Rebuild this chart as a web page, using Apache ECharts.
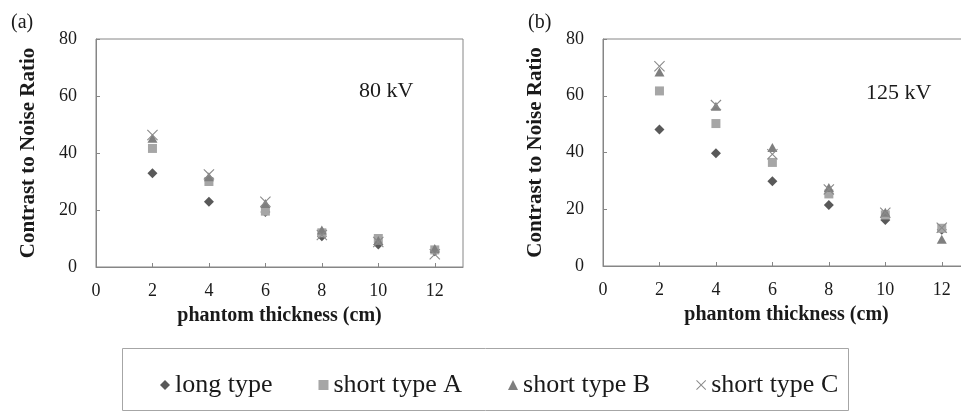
<!DOCTYPE html>
<html>
<head>
<meta charset="utf-8">
<script src="https://cdn.jsdelivr.net/npm/echarts@6/dist/echarts.min.js"></script>
<style>
html, body { margin: 0; padding: 0; background: #fff; }
#main { width: 961px; height: 412px; }
</style>
</head>
<body>
<div id="main"></div>
<script>
// 横轴：体模厚度 (cm)
const thickness = [2, 4, 6, 8, 10, 12]
const xTicks = [0, 2, 4, 6, 8, 10, 12]
const yTicks = [0, 20, 40, 60, 80]

// (a) 80 kV
const long80 = [32.9, 22.9, 19.3, 10.8, 7.9, 5.5]
const shortA80 = [41.6, 30.0, 19.6, 12.0, 10.0, 6.0]
const shortB80 = [45.2, 31.7, 22.3, 13.0, 9.3, 6.5]
const shortC80 = [46.3, 32.5, 22.9, 11.2, 8.8, 4.5]

// (b) 125 kV
const long125 = [48.1, 39.7, 29.9, 21.5, 16.2, 12.8]
const shortA125 = [61.7, 50.2, 36.5, 25.4, 18.0, 13.3]
const shortB125 = [68.4, 56.3, 41.8, 27.7, 18.9, 9.4]
const shortC125 = [70.4, 56.7, 39.4, 27.0, 18.8, 13.5]

const seriesNames = ['long type', 'short type A', 'short type B', 'short type C']

const FONT = '"Liberation Serif", "Times New Roman", serif'
const AXIS_GRAY = '#868686'
const crossPath = 'path://M0.7,0L5,4.3L9.3,0L10,0.7L5.7,5L10,9.3L9.3,10L5,5.7L0.7,10L0,9.3L4.3,5L0,0.7Z'

// 各系列的标记样式
const markerStyles = [
    { symbol: 'diamond', symbolSize: 10, color: '#595959' },
    { symbol: 'rect', symbolSize: 9, color: '#a6a6a6' },
    { symbol: 'triangle', symbolSize: [10, 9], color: '#7f7f7f' },
    { symbol: crossPath, symbolSize: 11, color: '#8a8a8a' }
]

const chart = echarts.init(document.getElementById('main'), null, { renderer: 'canvas' })

// 合成 [x, y] 数据对
function pairs(values) {
    return thickness.map((x, i) => [x, values[i]])
}

function makeXAxis(gridIndex) {
    return {
        type: 'value',
        gridIndex: gridIndex,
        min: xTicks[0],
        max: 13,
        interval: 2,
        axisLine: { show: true, onZero: false, lineStyle: { color: AXIS_GRAY, width: 1 } },
        axisTick: { show: true, inside: true, length: 4, lineStyle: { color: AXIS_GRAY } },
        axisLabel: {
            margin: 15,
            fontFamily: FONT,
            fontSize: 18,
            color: '#1a1a1a',
            showMaxLabel: false,
            formatter: v => (xTicks.indexOf(v) > -1 ? String(v) : '')
        },
        splitLine: { show: false },
        name: 'phantom thickness (cm)',
        nameLocation: 'middle',
        nameGap: 39,
        nameTextStyle: { fontFamily: FONT, fontSize: 20, fontWeight: 'bold', color: '#1a1a1a' }
    }
}

function makeYAxis(gridIndex) {
    return {
        type: 'value',
        gridIndex: gridIndex,
        min: yTicks[0],
        max: yTicks[yTicks.length - 1],
        interval: 20,
        axisLine: { show: true, lineStyle: { color: AXIS_GRAY, width: 1 } },
        axisTick: { show: true, inside: true, length: 4, lineStyle: { color: AXIS_GRAY } },
        axisLabel: { margin: 19, fontFamily: FONT, fontSize: 18, color: '#1a1a1a' },
        splitLine: { show: false },
        name: 'Contrast to Noise Ratio',
        nameLocation: 'middle',
        nameGap: 57,
        nameTextStyle: { fontFamily: FONT, fontSize: 21, fontWeight: 'bold', color: '#1a1a1a' }
    }
}

function makeSeries(valueSets, gridIndex) {
    return valueSets.map((values, i) => ({
        type: 'scatter',
        name: seriesNames[i],
        xAxisIndex: gridIndex,
        yAxisIndex: gridIndex,
        symbol: markerStyles[i].symbol,
        symbolSize: markerStyles[i].symbolSize,
        itemStyle: { color: markerStyles[i].color, opacity: 1 },
        emphasis: { disabled: true },
        data: pairs(values)
    }))
}

function label(text, x, y, size) {
    return {
        type: 'text',
        x: x,
        y: y,
        style: {
            text: text,
            font: size + 'px ' + FONT,
            fill: '#1a1a1a',
            align: 'left',
            verticalAlign: 'middle',
            textAlign: 'left',
            textVerticalAlign: 'middle'
        }
    }
}

const options = {
    backgroundColor: '#ffffff',
    animation: false,
    grid: [
        { left: 96, top: 39, width: 367, height: 228, show: true, borderColor: AXIS_GRAY, borderWidth: 1, outerBoundsMode: 'none' },
        { left: 603, top: 39, width: 367, height: 227, show: true, borderColor: AXIS_GRAY, borderWidth: 1, outerBoundsMode: 'none' }
    ],
    xAxis: [makeXAxis(0), makeXAxis(1)],
    yAxis: [makeYAxis(0), makeYAxis(1)],
    legend: {
        left: 155,
        top: 367,
        orient: 'horizontal',
        itemWidth: 10,
        itemHeight: 10,
        itemGap: 46,
        selectedMode: false,
        data: seriesNames,
        textStyle: { fontFamily: FONT, fontSize: 26, color: '#1a1a1a' }
    },
    graphic: [
        {
            type: 'rect',
            shape: { x: 122.5, y: 348.5, width: 726, height: 62 },
            style: { fill: 'none', stroke: '#a6a6a6', lineWidth: 1 }
        },
        label('(a)', 11, 23, 20),
        label('(b)', 528, 23, 20),
        label('80 kV', 359, 91, 22),
        label('125 kV', 866, 93, 22)
    ],
    series: [].concat(
        makeSeries([long80, shortA80, shortB80, shortC80], 0),
        makeSeries([long125, shortA125, shortB125, shortC125], 1)
    )
}

chart.setOption(options)
</script>
</body>
</html>
